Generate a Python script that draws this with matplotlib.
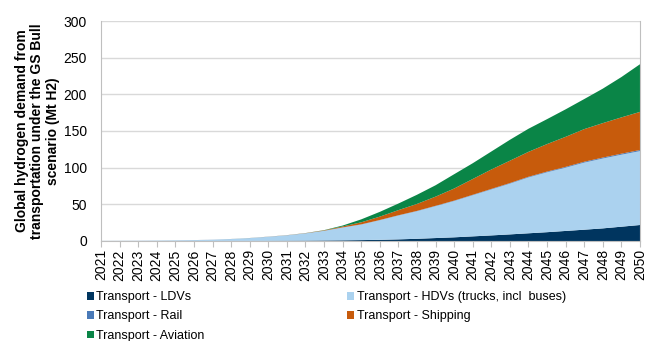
import numpy as np
import matplotlib
matplotlib.use("Agg")
from matplotlib import pyplot as plt

years = list(range(2021, 2051))

# Mt H2 per segment (stacked in this order)
ldvs = [0.02, 0.03, 0.04, 0.05, 0.07, 0.09, 0.12, 0.16, 0.2, 0.3,
        0.4, 0.5, 0.7, 0.9, 1.2, 1.6, 2.2, 3.0, 4.0, 5.0,
        6.3, 7.6, 9.0, 10.5, 12.0, 13.7, 15.4, 17.2, 19.5, 21.8]
hdvs = [0.07, 0.16, 0.24, 0.43, 0.7, 1.07, 1.63, 2.48, 3.72, 5.4,
        7.28, 9.85, 13.1, 17.4, 21.2, 26.7, 32.5, 37.6, 43.5, 49.5,
        56.1, 62.7, 69.2, 76.2, 81.7, 86.3, 91.5, 95.3, 98.2, 100.8]
rail = [0.01, 0.01, 0.02, 0.02, 0.03, 0.04, 0.05, 0.06, 0.08, 0.1,
        0.12, 0.15, 0.18, 0.22, 0.26, 0.3, 0.35, 0.4, 0.46, 0.52,
        0.6, 0.68, 0.76, 0.85, 0.95, 1.05, 1.15, 1.25, 1.35, 1.45]
shipping = [0, 0, 0, 0, 0, 0.01, 0.02, 0.03, 0.05, 0.08,
            0.12, 0.2, 0.5, 1.3, 2.8, 4.6, 7.0, 9.5, 12.5, 16.5,
            21.5, 26.5, 30.5, 34.0, 37.5, 41.0, 44.5, 47.0, 49.5, 52.0]
aviation = [0, 0, 0, 0, 0, 0, 0.01, 0.02, 0.03, 0.04,
            0.05, 0.1, 0.3, 1.2, 4.0, 6.5, 9.0, 12.5, 15.5, 19.5,
            21.5, 24.5, 28.5, 31.5, 34.0, 37.5, 41.0, 47.0, 55.0, 65.0]

labels = ["Transport - LDVs", "Transport - HDVs (trucks, incl  buses)",
          "Transport - Rail", "Transport - Shipping", "Transport - Aviation"]
colors = ["#00355f", "#abd2ef", "#4a7ab8", "#c75b0c", "#0a8547"]

plt.rcParams["font.family"] = ["Liberation Sans", "DejaVu Sans"]

fig = plt.figure(figsize=(6.49, 3.41), dpi=100)
ax = fig.add_axes([0.1556, 0.2933, 0.9861 - 0.1556, 0.9384 - 0.2933])

polys = ax.stackplot(years, ldvs, hdvs, rail, shipping, aviation,
                     colors=colors, linewidth=0)

ax.set_xlim(2021, 2050)
ax.set_ylim(0, 300)
ax.set_yticks(range(0, 301, 50))
ax.set_xticks(years)
ax.set_xticklabels([str(y) for y in years], rotation=90, fontsize=10)
ax.tick_params(axis="y", length=0, labelsize=10, pad=10)
ax.tick_params(axis="x", length=4, color="#bfbfbf", pad=2)
ax.grid(axis="y", color="#d9d9d9", linewidth=1)
ax.set_axisbelow(True)
for side in ["left", "right", "bottom"]:
    ax.spines[side].set_color("#bfbfbf")
ax.spines["top"].set_visible(False)

ax.set_ylabel("Global hydrogen demand from\ntransportation under the GS Bull\nscenario (Mt H2)",
              fontsize=10, fontweight="bold", labelpad=3, linespacing=1.1)

order = [0, 2, 4, 1, 3]
fig.legend([polys[i] for i in order], [labels[i] for i in order],
           loc="upper left", bbox_to_anchor=(0.134, 0.146), ncol=2,
           frameon=False, fontsize=9, handlelength=0.55, handleheight=0.55,
           handletextpad=0.2, labelspacing=0.58, columnspacing=11.4,
           borderaxespad=0, borderpad=0)

fig.savefig("out.png", dpi=100)
